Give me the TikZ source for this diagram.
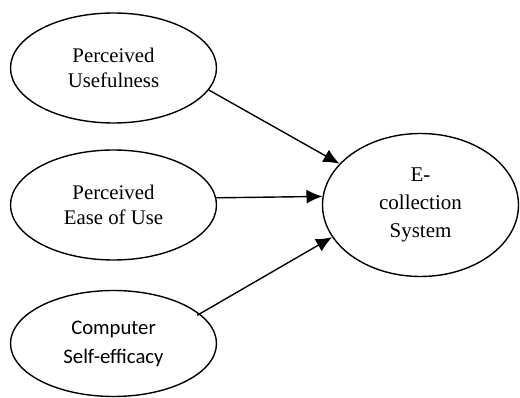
\documentclass[tikz,border=0pt]{standalone}
\usepackage{fontspec}
\setmainfont{Liberation Serif}
\newfontfamily\calib{Carlito}
\usetikzlibrary{shapes.geometric,arrows.meta}

\begin{document}
\begin{tikzpicture}[x=1pt,y=-1pt,
	construct/.style={draw,ellipse,line width=1.4pt,inner sep=0pt,align=center,
		minimum width=206pt,minimum height=110pt,font=\fontsize{20.8}{24.5}\selectfont}]
	\useasboundingbox (0,0) rectangle (520,398);
	\node[construct] at (113.5,68)  (useful) {Perceived\\Usefulness};
	\node[construct] at (113.5,205) (ease) {Perceived\\Ease of Use};
	\node[construct,minimum height=106pt,font=\calib\fontsize{20.7}{29}\selectfont] at (113.5,343.5) (selfeff) {Computer\\Self-efficacy};
	\node[construct,minimum width=196pt,minimum height=143pt,font=\fontsize{21}{28}\selectfont] at (420.5,205) (ecol) {E-\\collection\\System};

	\path[-{Latex[length=16pt,width=14pt]},line width=1.4pt]
		(useful.-13) edge (ecol.153)
		(ease.4) edge (ecol.175.5)
		(selfeff.19) edge[shorten <=-3pt] (ecol.200);
	%\path (selfeff) edge (ease);
\end{tikzpicture}
\end{document}
